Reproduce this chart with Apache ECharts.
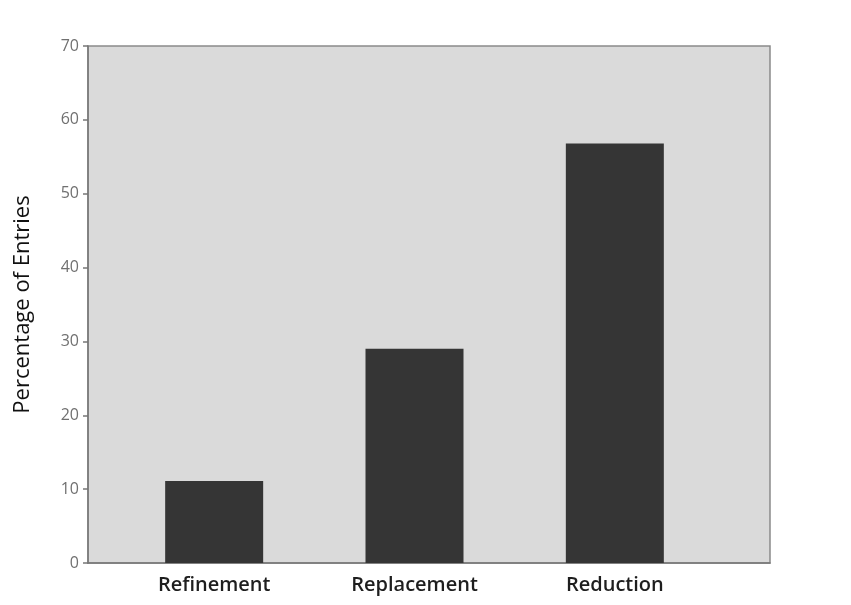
<!DOCTYPE html>
<html>
<head>
<meta charset="utf-8">
<script src="https://cdn.jsdelivr.net/npm/echarts@6/dist/echarts.min.js"></script>
<style>
  html, body { margin: 0; padding: 0; background: #ffffff; }
  #chart { width: 851px; height: 605px; }
</style>
</head>
<body>
<div id="chart"></div>
<script>
// Share of entries per "3R" principle
const categories = ['Refinement', 'Replacement', 'Reduction'];
const percentages = [11.1, 29.0, 56.8];
const yTicks = [0, 10, 20, 30, 40, 50, 60, 70];
const yTitle = 'Percentage of Entries';

const chart = echarts.init(document.getElementById('chart'));

const plotLeft = 88, plotTop = 46, plotWidth = 682, plotHeight = 517;
const yMin = yTicks[0], yMax = yTicks[yTicks.length - 1];
const yStep = yTicks[1] - yTicks[0];
const font = 'Open Sans';

chart.setOption({
  animation: false,
  backgroundColor: '#ffffff',
  grid: [
    {
      // shaded plot panel with the value axis
      left: plotLeft, top: plotTop, width: plotWidth, height: plotHeight,
      show: true, backgroundColor: '#dadada', borderColor: '#8a8a8a', borderWidth: 1.5
    },
    {
      // bar band, narrower than the panel
      left: 114, top: plotTop, width: 601, height: plotHeight
    }
  ],
  xAxis: [
    {
      gridIndex: 0, type: 'value', min: 0, max: 1,
      axisLine: { show: true, lineStyle: { color: '#777', width: 1.5 } },
      axisTick: { show: false }, axisLabel: { show: false }, splitLine: { show: false }
    },
    {
      gridIndex: 1, type: 'category', data: categories,
      axisLine: { show: false }, axisTick: { show: false },
      axisLabel: {
        margin: 12, color: '#1e1e1e', fontFamily: font, fontWeight: 600, fontSize: 20
      }
    }
  ],
  yAxis: [
    {
      gridIndex: 0, type: 'value', min: yMin, max: yMax, interval: yStep,
      name: yTitle, nameLocation: 'middle', nameGap: 54,
      nameTextStyle: { color: '#111', fontFamily: font, fontWeight: 500, fontSize: 22 },
      axisLine: { show: true, lineStyle: { color: '#777', width: 1.5 } },
      axisTick: { show: true, length: 5, lineStyle: { color: '#777', width: 1.5 } },
      axisLabel: { margin: 9, color: '#707070', fontFamily: font, fontSize: 16 },
      splitLine: { show: false }
    },
    {
      gridIndex: 1, type: 'value', min: yMin, max: yMax, show: false
    }
  ],
  series: [
    {
      type: 'bar', xAxisIndex: 1, yAxisIndex: 1,
      data: percentages, barWidth: 98,
      itemStyle: { color: '#353535' }
    }
  ]
});
</script>
</body>
</html>
